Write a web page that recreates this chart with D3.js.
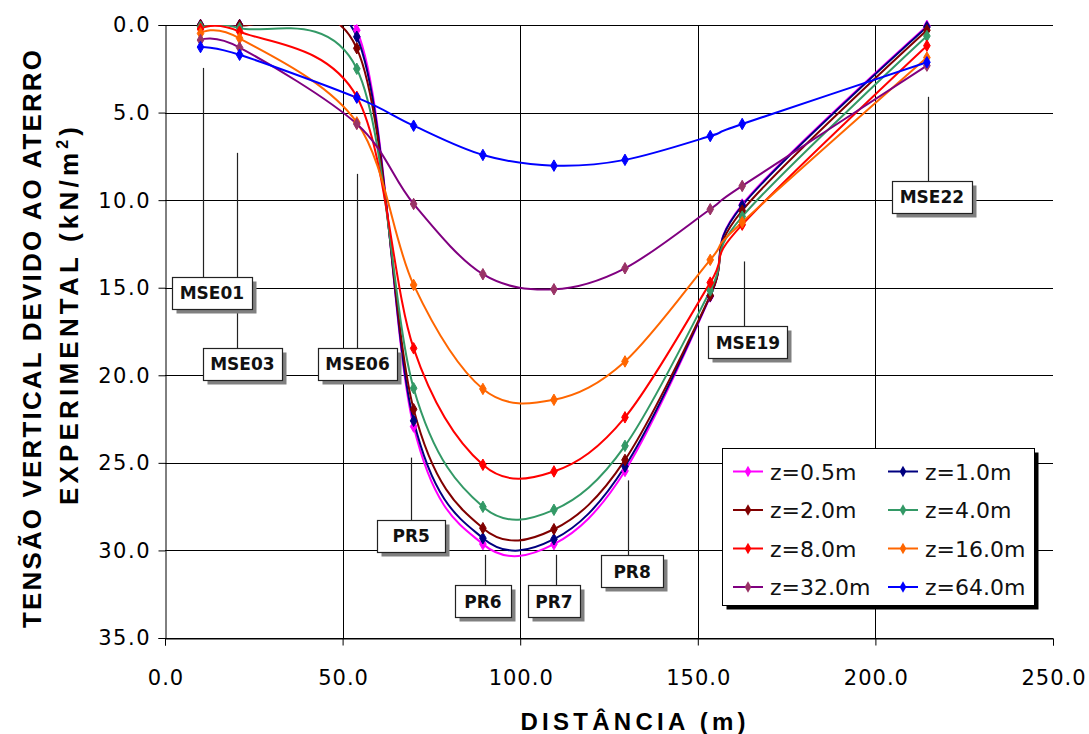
<!DOCTYPE html>
<html>
<head>
<meta charset="utf-8">
<script src="https://d3js.org/d3.v7.min.js"></script>
<style>
  html, body { margin: 0; padding: 0; background: #fff; }
  svg { display: block; }
</style>
</head>
<body>
<svg id="chart" width="1089" height="734"></svg>
<script>
// ---------- data ----------
const distancia = [10, 21, 54, 70, 89.5, 109.5, 129.5, 153.5, 162.5, 214.5];
const z05 = [0.0, 0.0, 0.3, 22.93, 29.64, 29.64, 25.46, 15.5, 10.25, 0.05];
const z1  = [0.0, 0.0, 0.67, 22.6, 29.3, 29.36, 25.21, 15.47, 10.31, 0.12];
const z2  = [0.02, 0.02, 1.33, 21.94, 28.73, 28.79, 24.83, 15.45, 10.6, 0.3];
const z4  = [0.1, 0.18, 2.5, 20.74, 27.51, 27.68, 24.03, 15.16, 10.94, 0.63];
const z8  = [0.23, 0.38, 4.1, 18.46, 25.11, 25.49, 22.4, 14.71, 11.4, 1.18];
const z16 = [0.48, 0.76, 5.56, 14.84, 20.78, 21.4, 19.21, 13.41, 11.26, 1.86];
const z32 = [0.86, 1.29, 5.65, 10.22, 14.23, 15.09, 13.89, 10.52, 9.19, 2.32];
const z64 = [1.26, 1.70, 4.15, 5.75, 7.42, 8.03, 7.70, 6.34, 5.65, 2.13];
const seriesNames = ["z=0.5m", "z=1.0m", "z=2.0m", "z=4.0m", "z=8.0m", "z=16.0m", "z=32.0m", "z=64.0m"];
const seriesValues = [z05, z1, z2, z4, z8, z16, z32, z64];
const xTicks = [0, 50, 100, 150, 200, 250];
const yTicks = [0, 5, 10, 15, 20, 25, 30, 35];

// annotation labels
const annoText = ["MSE01", "MSE03", "MSE06", "PR5", "PR6", "PR7", "PR8", "MSE19", "MSE22"];
const annoX    = [10.7, 20.3, 54, 69.3, 90.2, 110, 130.3, 163, 214.7];
const annoFrom = [2.45, 7.3, 8.5, 24.7, 30.25, 30.25, 26.0, 13.5, 4.1];
const annoBoxX = [13.2, 21.8, 54.2, 69.3, 89.5, 109.5, 131.5, 164.1, 215.9];
const annoBoxY = [15.3, 19.35, 19.35, 29.17, 32.9, 32.9, 31.2, 18.1, 9.8];

// ---------- styles ----------
const lineColors   = ["#FF00FF", "#000080", "#800000", "#339966", "#FF0000", "#FF6600", "#800080", "#0000FF"];
const markerColors = ["#FF00FF", "#000080", "#800000", "#339966", "#FF0000", "#FF6600", "#993366", "#0000FF"];
const annoW = [80, 79, 79, 68, 56, 52, 62, 79, 80];

const svg = d3.select("#chart");
const L = 165, R = 1053, T = 25, B = 638;
const x = d3.scaleLinear().domain([0, 250]).range([L, R]);
const y = d3.scaleLinear().domain([0, 35]).range([T, B]);

svg.append("defs").append("clipPath").attr("id", "plotclip")
  .append("rect").attr("x", L).attr("y", T).attr("width", R - L).attr("height", B - T);

// gridlines
svg.append("g").selectAll("line").data(yTicks).join("line")
  .attr("x1", L).attr("x2", R)
  .attr("y1", d => Math.round(y(d)) + 0.5).attr("y2", d => Math.round(y(d)) + 0.5)
  .attr("stroke", "#000").attr("stroke-width", 1);
svg.append("g").selectAll("line").data(xTicks.filter(d => d > 0 && d < 250)).join("line")
  .attr("x1", d => Math.round(x(d)) + 0.5).attr("x2", d => Math.round(x(d)) + 0.5)
  .attr("y1", T).attr("y2", B)
  .attr("stroke", "#000").attr("stroke-width", 1);

// axes
const yAxis = d3.axisLeft(y).tickValues(yTicks).tickSize(7).tickPadding(9)
  .tickFormat(d3.format(".1f"));
const gy = svg.append("g").attr("transform", `translate(${L + 0.5},0)`).call(yAxis);
gy.select(".domain").attr("stroke", "#000");
gy.selectAll(".tick line").attr("stroke", "#000");
gy.selectAll("text").attr("font-family", "DejaVu Sans").attr("font-size", 21)
  .attr("fill", "#000").style("letter-spacing", "1.5px").attr("dx", 1.5).attr("dy", "0.33em");

const xAxis = d3.axisBottom(x).tickValues(xTicks).tickSize(7).tickPadding(25)
  .tickFormat(d3.format(".1f"));
const gx = svg.append("g").attr("transform", `translate(0,${B + 0.5})`).call(xAxis);
gx.select(".domain").attr("stroke", "#000");
gx.selectAll(".tick line").attr("stroke", "#000");
gx.selectAll("text").attr("font-family", "DejaVu Sans").attr("font-size", 21)
  .attr("fill", "#000").style("letter-spacing", "1px").attr("dx", 0.5);

// axis titles
svg.append("text").attr("x", 633).attr("y", 730).attr("text-anchor", "middle")
  .attr("font-family", "Liberation Sans").attr("font-weight", "bold").attr("font-size", 24)
  .attr("textLength", 225).attr("lengthAdjust", "spacing")
  .text("DISTÂNCIA (m)");

svg.append("text").attr("transform", "translate(41,339) rotate(-90)")
  .attr("text-anchor", "middle")
  .attr("font-family", "Liberation Sans").attr("font-weight", "bold").attr("font-size", 26)
  .attr("textLength", 578).attr("lengthAdjust", "spacing")
  .text("TENSÃO VERTICAL DEVIDO AO ATERRO");
const yt2 = svg.append("text").attr("transform", "translate(78,316) rotate(-90)")
  .attr("text-anchor", "middle")
  .attr("font-family", "Liberation Sans").attr("font-weight", "bold").attr("font-size", 26)
  .attr("textLength", 378).attr("lengthAdjust", "spacing");
yt2.append("tspan").text("EXPERIMENTAL (kN/m");
yt2.append("tspan").attr("font-size", 16).attr("dy", -10).text("2");
yt2.append("tspan").attr("dy", 10).text(")");

// series
const line = d3.line()
  .x(d => x(d[0])).y(d => y(d[1]))
  .curve(d3.curveCatmullRom.alpha(0));
const series = seriesValues.map((vals, i) => ({
  name: seriesNames[i], i, pts: distancia.map((d, k) => [d, vals[k]])
}));
const gLines = svg.append("g").attr("clip-path", "url(#plotclip)");
const sym = d3.symbol().type(d3.symbolDiamond).size(38);
series.forEach(s => {
  gLines.append("path").attr("d", line(s.pts)).attr("fill", "none")
    .attr("stroke", lineColors[s.i]).attr("stroke-width", 2);
});
series.forEach(s => {
  svg.append("g").selectAll("path").data(s.pts).join("path")
    .attr("d", sym).attr("transform", d => `translate(${x(d[0])},${y(d[1])})`)
    .attr("fill", markerColors[s.i]).attr("stroke", markerColors[s.i]).attr("stroke-width", 1);
});

// annotations
const gA = svg.append("g");
annoText.forEach((t, i) => {
  gA.append("line")
    .attr("x1", Math.round(x(annoX[i])) + 0.5).attr("x2", Math.round(x(annoX[i])) + 0.5)
    .attr("y1", y(annoFrom[i])).attr("y2", y(annoBoxY[i]))
    .attr("stroke", "#222").attr("stroke-width", 1.2);
});
annoText.forEach((t, i) => {
  const w = annoW[i];
  const h = 32;
  const cx = x(annoBoxX[i]), cy = y(annoBoxY[i]);
  const bx = Math.round(cx - w / 2) + 0.5, by = Math.round(cy - h / 2) + 0.5;
  gA.append("rect").attr("x", bx + 4).attr("y", by + 4).attr("width", w).attr("height", h)
    .attr("fill", "#808080");
  gA.append("rect").attr("x", bx).attr("y", by).attr("width", w).attr("height", h)
    .attr("fill", "#fff").attr("stroke", "#222").attr("stroke-width", 1.2);
  gA.append("text").attr("x", cx).attr("y", cy + 6.5).attr("text-anchor", "middle")
    .attr("font-family", "DejaVu Sans").attr("font-weight", "bold").attr("font-size", 17)
    .attr("fill", "#111").text(t);
});

// legend
const lgX = 722.5, lgY = 448.5, lgW = 312, lgH = 157;
svg.append("rect").attr("x", lgX + 4).attr("y", lgY + 4).attr("width", lgW).attr("height", lgH).attr("fill", "#000");
svg.append("rect").attr("x", lgX).attr("y", lgY).attr("width", lgW).attr("height", lgH)
  .attr("fill", "#fff").attr("stroke", "#000").attr("stroke-width", 1);
series.forEach(s => {
  const col = s.i % 2, row = Math.floor(s.i / 2);
  const lx = col === 0 ? 733 : 888;
  const ly = 471.5 + row * 38.5;
  svg.append("line").attr("x1", lx).attr("x2", lx + 30).attr("y1", ly).attr("y2", ly)
    .attr("stroke", lineColors[s.i]).attr("stroke-width", 2);
  svg.append("path").attr("d", sym).attr("transform", `translate(${lx + 15},${ly})`)
    .attr("fill", markerColors[s.i]);
  svg.append("text").attr("x", lx + 37).attr("y", ly + 8)
    .attr("font-family", "DejaVu Sans").attr("font-size", 22).attr("fill", "#111")
    .text(s.name);
});
</script>
</body>
</html>
